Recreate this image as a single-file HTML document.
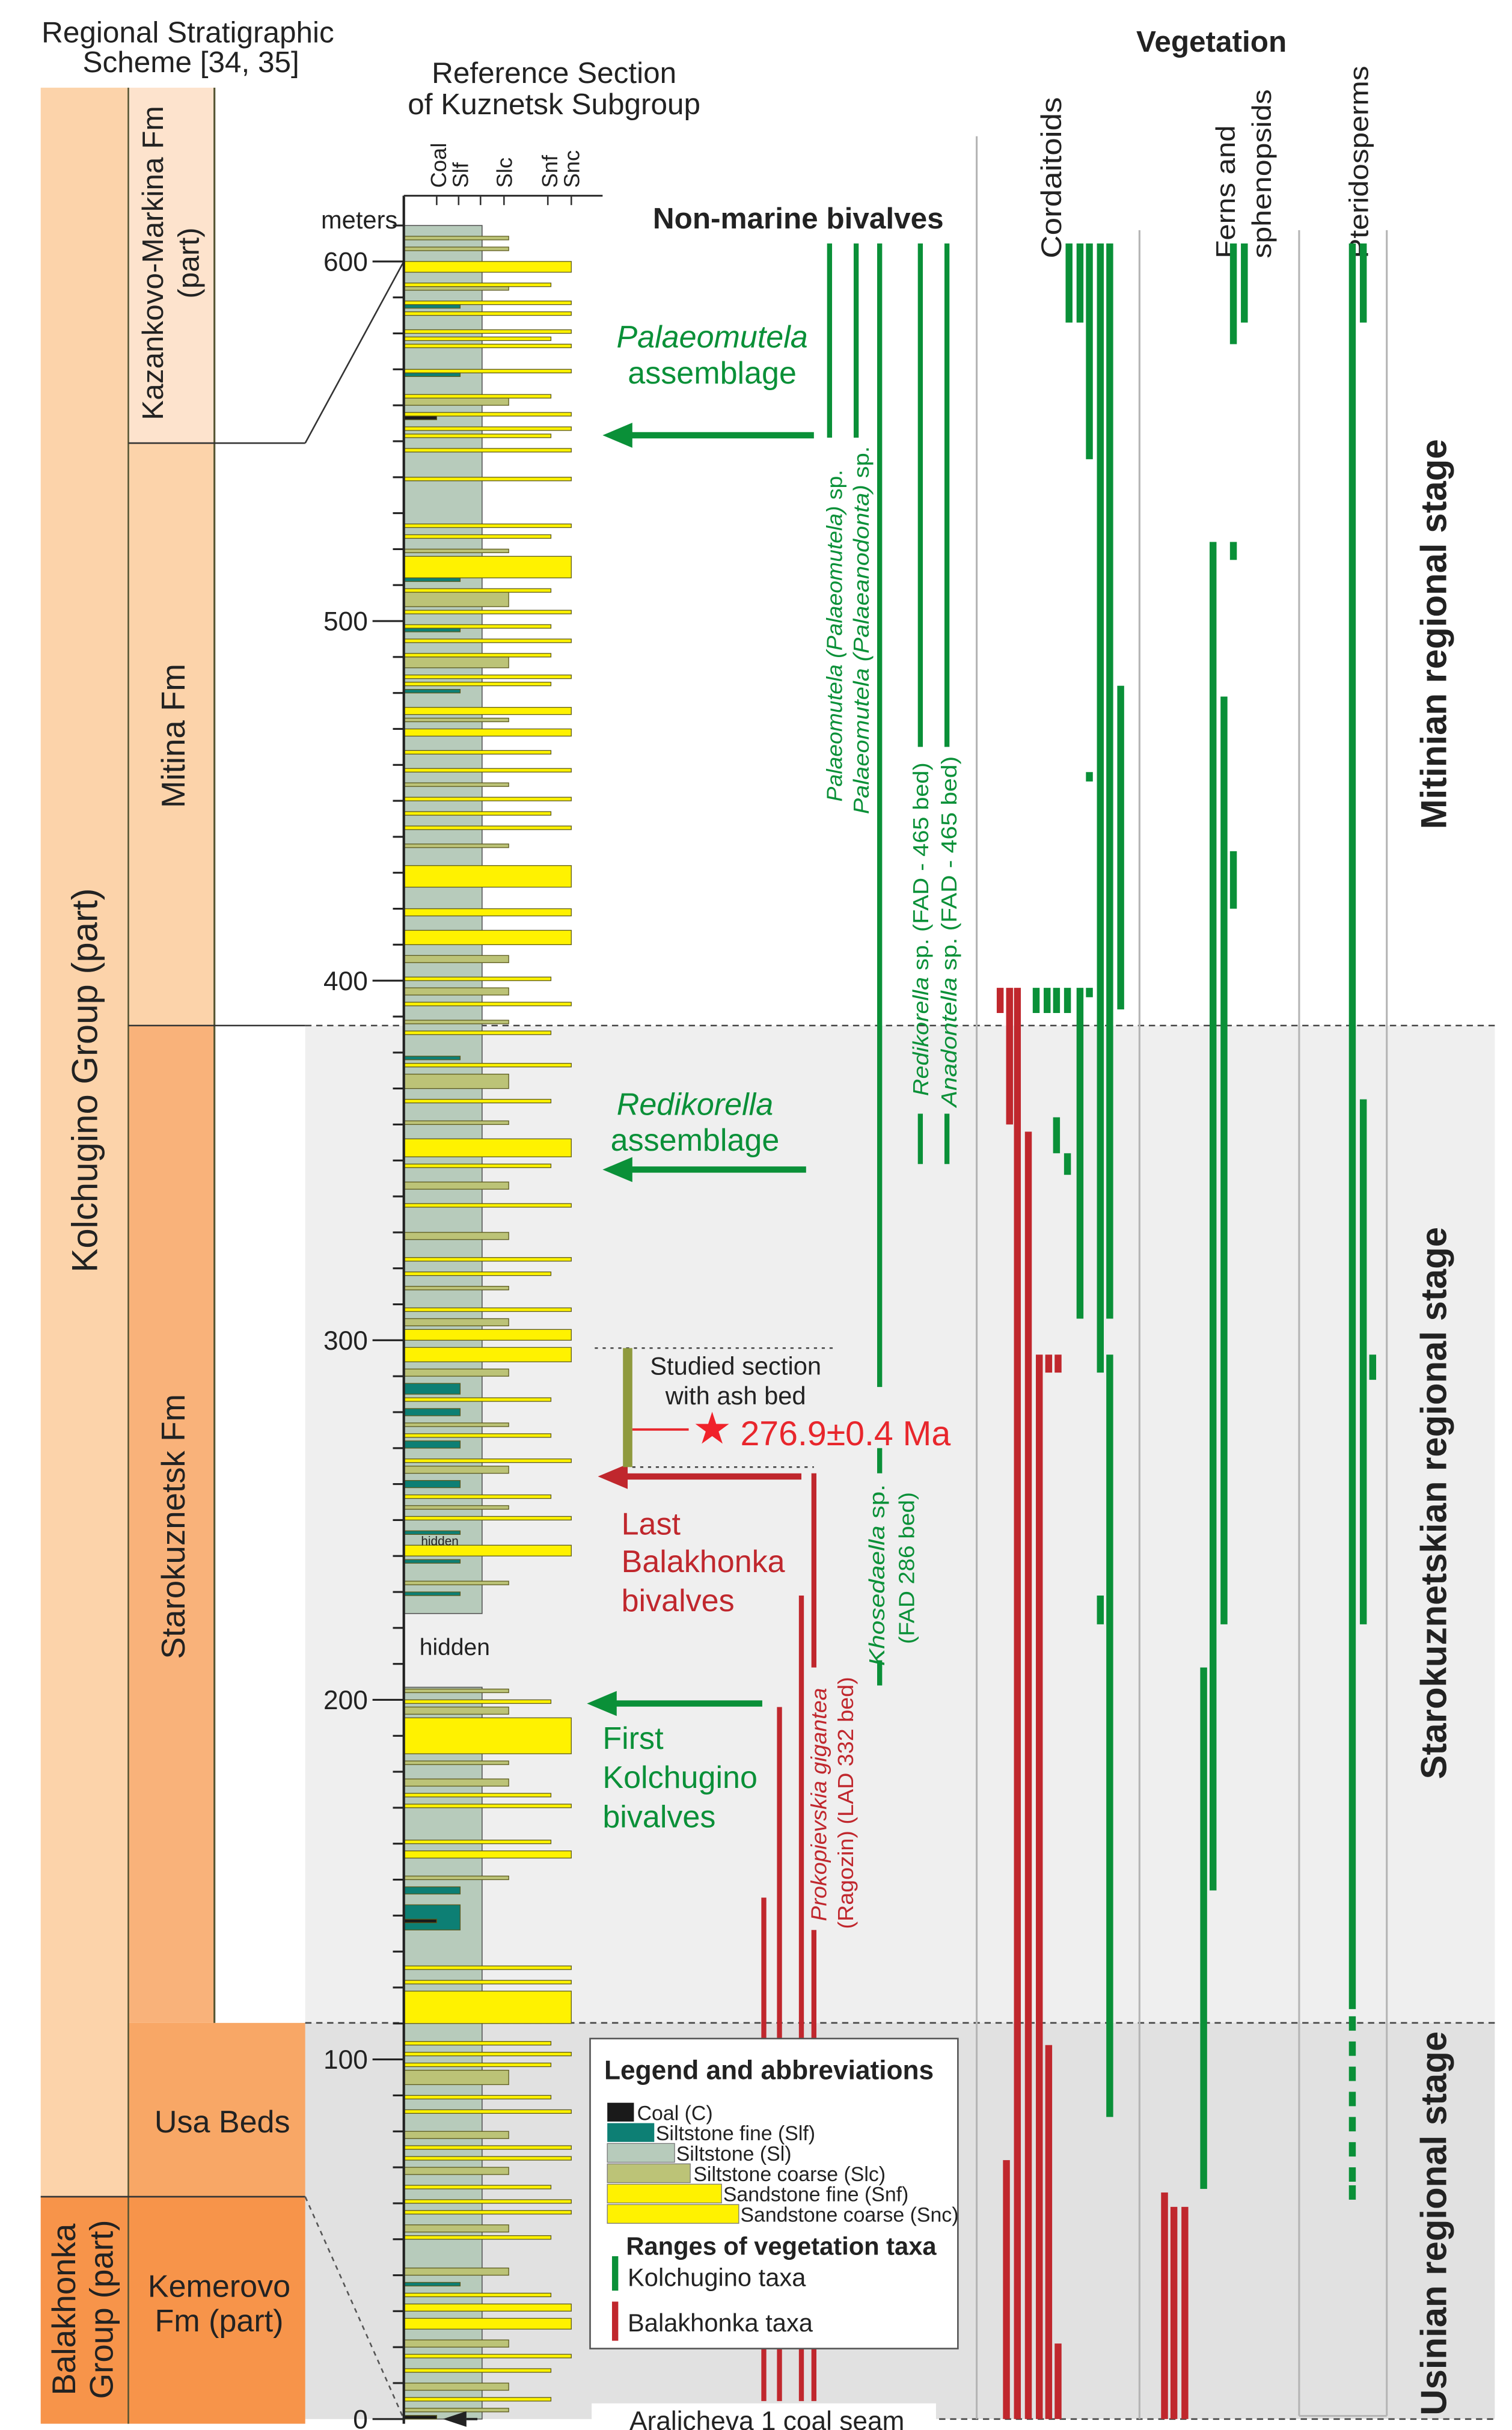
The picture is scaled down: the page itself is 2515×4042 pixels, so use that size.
<!DOCTYPE html>
<html><head><meta charset="utf-8"><style>
html,body{margin:0;padding:0;background:#fff;}
svg{display:block;font-family:"Liberation Sans",sans-serif;}
</style></head><body>
<svg id="chart" width="2515" height="4042" viewBox="0 0 966 1552" preserveAspectRatio="none" xmlns="http://www.w3.org/2000/svg">
<rect x="0" y="0" width="966" height="1552" fill="#fff"/>
<rect x="195" y="655" width="760" height="637" fill="#efefef"/>
<rect x="195" y="1292" width="760" height="253" fill="#e1e1e1"/>

<g>
<rect x="26" y="56" width="56" height="1347" fill="#fcd3aa"/>
<rect x="26" y="1403" width="56" height="145" fill="#f7944a"/>
<rect x="82" y="56" width="55" height="227" fill="#fde3cd"/>
<rect x="82" y="283" width="55" height="372" fill="#fcd3aa"/>
<rect x="82" y="655" width="55" height="637" fill="#f9b27a"/>
<rect x="82" y="1292" width="113" height="111" fill="#f8a766"/>
<rect x="82" y="1403" width="113" height="145" fill="#f7944a"/>
<line x1="82" y1="56" x2="82" y2="1548" stroke="#553" stroke-width="1"/>
<line x1="137" y1="56" x2="137" y2="1292" stroke="#553" stroke-width="1.2"/>
<line x1="82" y1="283" x2="195" y2="283" stroke="#333" stroke-width="1"/>
<line x1="195" y1="283" x2="258" y2="167" stroke="#333" stroke-width="1"/>
<line x1="82" y1="655" x2="195" y2="655" stroke="#333" stroke-width="1"/>
<line x1="26" y1="1403" x2="195" y2="1403" stroke="#333" stroke-width="1"/>
<line x1="195" y1="1403" x2="258" y2="1545" stroke="#555" stroke-width="1" stroke-dasharray="3,3"/>
<text transform="translate(62,690) rotate(-90)" text-anchor="middle" font-size="23" fill="#222">Kolchugino Group (part)</text>
<text transform="translate(104,168) rotate(-90)" text-anchor="middle" font-size="19" fill="#222">Kazankovo-Markina Fm</text>
<text transform="translate(127,168) rotate(-90)" text-anchor="middle" font-size="19" fill="#222">(part)</text>
<text transform="translate(118,470) rotate(-90)" text-anchor="middle" font-size="21" fill="#222">Mitina Fm</text>
<text transform="translate(118,975) rotate(-90)" text-anchor="middle" font-size="21" fill="#222">Starokuznetsk Fm</text>
<text x="142" y="1362" text-anchor="middle" font-size="20" fill="#222">Usa Beds</text>
<text x="140" y="1467" text-anchor="middle" font-size="20" fill="#222">Kemerovo</text>
<text x="140" y="1489" text-anchor="middle" font-size="20" fill="#222">Fm (part)</text>
<text transform="translate(48,1475) rotate(-90)" text-anchor="middle" font-size="21" fill="#222">Balakhonka</text>
<text transform="translate(72,1475) rotate(-90)" text-anchor="middle" font-size="21" fill="#222">Group (part)</text>
</g>
<text x="120" y="27" text-anchor="middle" font-size="19" fill="#222">Regional Stratigraphic</text>
<text x="122" y="46" text-anchor="middle" font-size="19" fill="#222">Scheme [34, 35]</text>
<text x="354" y="53" text-anchor="middle" font-size="19" fill="#222">Reference Section</text>
<text x="354" y="73" text-anchor="middle" font-size="19" fill="#222">of Kuznetsk Subgroup</text>

<line x1="195" y1="655" x2="955" y2="655" stroke="#444" stroke-width="1" stroke-dasharray="4,3"/>
<line x1="195" y1="1292" x2="955" y2="1292" stroke="#444" stroke-width="1" stroke-dasharray="4,3"/>
<line x1="600" y1="1545" x2="955" y2="1545" stroke="#444" stroke-width="1" stroke-dasharray="4,3"/>

<g stroke="#b5b5b5" stroke-width="1.2">
<line x1="624" y1="87" x2="624" y2="1545"/>
<line x1="728" y1="147" x2="728" y2="1545"/>
<line x1="830" y1="147" x2="830" y2="1543"/>
<line x1="886" y1="147" x2="886" y2="1543"/>
<line x1="830" y1="1543" x2="886" y2="1543"/>
</g>
<text x="774" y="33" text-anchor="middle" font-size="19" font-weight="bold" fill="#222">Vegetation</text>
<text transform="translate(678,165) rotate(-90)" font-size="18" fill="#222" textLength="103" lengthAdjust="spacingAndGlyphs">Cordaitoids</text>
<text transform="translate(789,165) rotate(-90)" font-size="17" fill="#222" textLength="85" lengthAdjust="spacingAndGlyphs">Ferns and</text>
<text transform="translate(812,165) rotate(-90)" font-size="17" fill="#222" textLength="108" lengthAdjust="spacingAndGlyphs">sphenopsids</text>
<text transform="translate(874,165) rotate(-90)" font-size="17" fill="#222" textLength="123" lengthAdjust="spacingAndGlyphs">Pteridosperms</text>
<text transform="translate(924,405) rotate(-90)" text-anchor="middle" font-size="23" font-weight="bold" fill="#222">Mitinian regional stage</text>
<text transform="translate(924,960) rotate(-90)" text-anchor="middle" font-size="23" font-weight="bold" fill="#222">Starokuznetskian regional stage</text>
<text transform="translate(924,1420) rotate(-90)" text-anchor="middle" font-size="23" font-weight="bold" fill="#222">Usinian regional stage</text>

<g id="litho"></g>
<g id="axis"></g>
<g id="ranges"></g>

<line x1="258" y1="125" x2="385" y2="125" stroke="#333" stroke-width="1.2"/>
<g font-size="14" fill="#222">
<text transform="translate(285,120) rotate(-90)">Coal</text>
<text transform="translate(299,120) rotate(-90)">Slf</text>
<text transform="translate(327,120) rotate(-90)">Slc</text>
<text transform="translate(356,120) rotate(-90)">Snf</text>
<text transform="translate(370,120) rotate(-90)">Snc</text>
</g>
<text x="254" y="146" text-anchor="end" font-size="16" fill="#222">meters</text>

<text x="510" y="146" text-anchor="middle" font-size="19" font-weight="bold" fill="#222">Non-marine bivalves</text>
<g fill="#0a9038" font-size="20">
<text x="455" y="222" text-anchor="middle" font-style="italic">Palaeomutela</text>
<text x="455" y="245" text-anchor="middle">assemblage</text>
<text x="444" y="712" text-anchor="middle" font-style="italic">Redikorella</text>
<text x="444" y="735" text-anchor="middle">assemblage</text>
<text x="385" y="1117">First</text>
<text x="385" y="1142">Kolchugino</text>
<text x="385" y="1167">bivalves</text>
</g>
<g fill="#0a9038" font-size="14">
<text transform="translate(538,512) rotate(-90)" textLength="212" lengthAdjust="spacingAndGlyphs"><tspan font-style="italic">Palaeomutela (Palaeomutela)</tspan> sp.</text>
<text transform="translate(555,520) rotate(-90)" textLength="235" lengthAdjust="spacingAndGlyphs"><tspan font-style="italic">Palaeomutela (Palaeanodonta)</tspan> sp.</text>
<text transform="translate(593,700) rotate(-90)" textLength="213" lengthAdjust="spacingAndGlyphs"><tspan font-style="italic">Redikorella</tspan> sp. (FAD - 465 bed)</text>
<text transform="translate(611,707) rotate(-90)" textLength="224" lengthAdjust="spacingAndGlyphs"><tspan font-style="italic">Anadontella</tspan> sp. (FAD - 465 bed)</text>
<text transform="translate(565,1064) rotate(-90)" textLength="116" lengthAdjust="spacingAndGlyphs"><tspan font-style="italic">Khosedaella</tspan> sp.</text>
<text transform="translate(584,1050) rotate(-90)" textLength="97" lengthAdjust="spacingAndGlyphs">(FAD 286 bed)</text>
</g>
<g fill="#c0272d" font-size="14">
<text transform="translate(528,1227) rotate(-90)" textLength="149" lengthAdjust="spacingAndGlyphs" font-style="italic">Prokopievskia gigantea</text>
<text transform="translate(545,1232) rotate(-90)" textLength="161" lengthAdjust="spacingAndGlyphs">(Ragozin) (LAD 332 bed)</text>
<text x="397" y="980" font-size="20">Last</text>
<text x="397" y="1004" font-size="20">Balakhonka</text>
<text x="397" y="1029" font-size="20">bivalves</text>
</g>
<g><line x1="520" y1="278" x2="398" y2="278" stroke="#0a9038" stroke-width="4"/><polygon points="385,278 404,270 404,286" fill="#0a9038"/></g>
<g><line x1="515" y1="747" x2="398" y2="747" stroke="#0a9038" stroke-width="4"/><polygon points="385,747 404,739 404,755" fill="#0a9038"/></g>
<g><line x1="487" y1="1088" x2="388" y2="1088" stroke="#0a9038" stroke-width="4"/><polygon points="375,1088 394,1080 394,1096" fill="#0a9038"/></g>
<g><line x1="512" y1="943" x2="395" y2="943" stroke="#c0272d" stroke-width="4"/><polygon points="382,943 401,935 401,951" fill="#c0272d"/></g>
<line x1="380" y1="861" x2="535" y2="861" stroke="#444" stroke-width="1" stroke-dasharray="2,3"/>
<line x1="404" y1="937" x2="520" y2="937" stroke="#444" stroke-width="1" stroke-dasharray="2,3"/>
<rect x="398" y="861" width="6" height="76" fill="#8f9a3e"/>
<text x="470" y="878" text-anchor="middle" font-size="16" fill="#222">Studied section</text>
<text x="470" y="897" text-anchor="middle" font-size="16" fill="#222">with ash bed</text>
<line x1="404" y1="913" x2="440" y2="913" stroke="#e8262c" stroke-width="1.5"/>
<text x="455" y="922" text-anchor="middle" font-size="28" fill="#f0222a">★</text>

<g>
<rect x="377" y="1302" width="235" height="198" fill="#fff" stroke="#555" stroke-width="1"/>
<text x="386" y="1328" font-size="17" font-weight="bold" fill="#222">Legend and abbreviations</text>
<rect x="388" y="1343" width="17" height="12" fill="#1a1a1a"/>
<rect x="388" y="1356" width="30" height="12" fill="#0d7f74"/>
<rect x="388" y="1369" width="43" height="12" fill="#b7cbbb" stroke="#777" stroke-width="0.5"/>
<rect x="388" y="1382" width="53" height="12" fill="#bcc377" stroke="#777" stroke-width="0.5"/>
<rect x="388" y="1395" width="73" height="12" fill="#fff200" stroke="#777" stroke-width="0.5"/>
<rect x="388" y="1408" width="84" height="12" fill="#fff200" stroke="#777" stroke-width="0.5"/>
<g font-size="13" fill="#222">
<text x="407" y="1354">Coal (C)</text>
<text x="419" y="1367">Siltstone fine (Slf)</text>
<text x="432" y="1380">Siltstone (Sl)</text>
<text x="443" y="1393">Siltstone coarse (Slc)</text>
<text x="462" y="1406">Sandstone fine (Snf)</text>
<text x="473" y="1419">Sandstone coarse (Snc)</text>
</g>
<text x="400" y="1440" font-size="16" font-weight="bold" fill="#222">Ranges of vegetation taxa</text>
<rect x="391" y="1441" width="4" height="22" fill="#0a9038"/>
<text x="401" y="1460" font-size="16" fill="#222">Kolchugino taxa</text>
<rect x="391" y="1470" width="4" height="25" fill="#c0272d"/>
<text x="401" y="1489" font-size="16" fill="#222">Balakhonka taxa</text>
</g>
<rect x="378" y="1535" width="220" height="17" fill="#fff"/>
<text x="490" y="1552" text-anchor="middle" font-size="17" fill="#222">Aralicheva 1 coal seam</text>
<polygon points="283,1545 298,1540 298,1550" fill="#222"/>
<line x1="298" y1="1545" x2="305" y2="1545" stroke="#222" stroke-width="1.5"/>
<g id="overlay"></g>
<text x="473" y="923" font-size="22" fill="#e8262c">276.9±0.4 Ma</text>
</svg>
<script>
// ---------- data ----------
const axisTicks = [0, 100, 200, 300, 400, 500, 600];
const gapBottom = 203.5, gapTop = 224;
const baseTop = 610;
const bedBottoms = [606,603,597,593,592,588,587,585,580,578,576,569,568,562,560,557,556,553,551,547,539,526,523,519,512,511,508,504,502,498,497,494,490,487,484,482,480,474,472,468,463,458,454,450,446,442,437,426,418,410,405,400,396,393,388,385,378,376,370,366,360,351,348,342,337,328,322,318,314,308,304,300,294,290,285,283,279,276,273,270,266,263,259,256,253,250,246,240,238,232,229,202,199,196,185,182,176,173,170,160,156,150,146,136,138,125,121,110,104,101,98,93,89,85,78,75,72,68,64,60,57,52,50,40,37,34,30,25,20,17,13,8,5,2,0];
const bedTops =    [607,604,600,594,593,589,588,586,581,579,577,570,569,563,562,558,557,554,552,548,540,527,524,520,518,512,509,508,503,499,498,495,491,490,485,483,481,476,473,470,464,459,455,451,447,443,438,432,420,414,407,401,398,394,389,386,379,377,374,367,361,356,349,344,338,330,323,319,315,309,306,303,298,292,288,284,281,277,274,272,267,265,261,257,254,251,247,243,239,233,230,203,200,198,195,183,178,174,171,161,158,151,148,143,139,126,122,119,105,102,99,97,90,86,80,76,73,70,65,61,58,54,51,42,38,35,32,28,22,18,14,10,6,3,1];
const bedTypes = ["Slc","Slc","Snc","Snf","Slc","Snc","Slf","Snc","Snc","Snf","Snc","Snc","Slf","Snf","Slc","Snc","C","Snc","Snf","Snc","Snc","Snc","Snf","Slc","Snc","Slf","Snf","Slc","Snc","Snf","Slf","Snc","Snf","Slc","Snc","Snf","Slf","Snc","Slc","Snc","Snf","Snc","Slc","Snc","Snf","Snc","Slc","Snc","Snc","Snc","Slc","Snf","Slc","Snc","Slc","Snf","Slf","Snc","Slc","Snf","Slc","Snc","Snf","Slc","Snc","Slc","Snc","Snf","Slc","Snc","Slc","Snc","Snc","Slc","Slf","Snf","Slf","Slc","Snf","Slf","Snc","Slc","Slf","Snf","Slc","Snc","Slf","Snc","Slf","Slc","Slf","Slc","Snf","Slc","Snc","Slc","Slc","Snf","Snc","Snf","Snc","Slc","Slf","Slf","C","Snc","Snc","Snc","Snf","Snc","Snf","Slc","Snf","Snc","Slc","Snc","Snc","Slc","Snf","Snc","Snc","Slc","Snf","Slc","Slf","Snf","Snc","Snc","Slc","Snc","Snf","Slc","Snf","Slc","C"];

const bivCols = [530, 547, 562, 562, 562, 588, 588, 605, 605, 488, 498, 512, 520, 520];
const bivTop =  [605, 605, 605, 270, 211, 605, 363, 605, 363, 145, 198, 229, 263, 136];
const bivBase = [551, 551, 287, 263, 204, 465, 349, 465, 349, 5, 5, 5, 209, 5];
const bivTaxa = ["K","K","K","K","K","K","K","K","K","B","B","B","B","B"];

const vegCols = [683,690,690,696,696,696,703,709,709,716,662,669,675,682,675,682,703, 639,645,650,657,664,670,676,643,670,676, 788,795,775,782,788,788,769,744,750,757, 864,871,871,877];
const vegTop =  [605,605,398,605,398,458,605,605,296,482,398,398,398,398,362,352,229, 398,398,398,358,296,296,296,72,104,21, 605,605,522,479,522,436,209,63,59,59, 605,605,367,296];
const vegBase = [583,583,306,545,398,458,291,306,84,392,391,391,391,391,352,346,221, 391,360,0,0,0,291,291,0,0,0, 577,583,147,221,517,420,64,0,0,0, 114,583,221,289];
const vegTaxa = ["K","K","K","K","K","K","K","K","K","K","K","K","K","K","K","K","K", "B","B","B","B","B","B","B","B","B","B", "K","K","K","K","K","K","K","B","B","B", "K","K","K","K"];
const pteridoDashTops = [112, 105, 98, 91, 84, 77, 70, 65];

// ---------- scales ----------
const Y0 = 1545, PXM = 2.2967;
function yScale(m){ return Y0 - m*PXM; }
const COL_X = 258;
const typeRight = {C:279, Slf:294, Sl:308, Slc:325, Snf:352, Snc:365};
const typeFill = {C:"#1a1a1a", Slf:"#0d7f74", Sl:"#b7cbbb", Slc:"#bcc377", Snf:"#fff200", Snc:"#fff200"};
const taxaColor = {K:"#0a9038", B:"#c0272d"};
const NS = "http://www.w3.org/2000/svg";
function mk(tag, attrs, parent){ const e=document.createElementNS(NS,tag); for(const k in attrs) e.setAttribute(k, attrs[k]); parent.appendChild(e); return e; }

// ---------- lithology ----------
const litho = document.getElementById('litho');
const b1 = mk('rect', {x:COL_X, y:yScale(baseTop), width:typeRight.Sl-COL_X, height:yScale(gapTop)-yScale(baseTop), fill:typeFill.Sl, stroke:"#555", 'stroke-width':0.6}, litho);


const b2 = mk('rect', {x:COL_X, y:yScale(gapBottom), width:typeRight.Sl-COL_X, height:yScale(0)-yScale(gapBottom), fill:typeFill.Sl, stroke:"#555", 'stroke-width':0.6}, litho);


for (let i = 0; i < bedBottoms.length; i++) {
  const t = bedTypes[i];
  const yT = yScale(bedTops[i]), yB = yScale(bedBottoms[i]);
  const r = mk('rect', {x:COL_X, y:yT, width:typeRight[t]-COL_X, height:Math.max(1.2, yB-yT), fill:typeFill[t], stroke:"#5c5a1e", 'stroke-width':0.5}, litho);
  
  
}
const hid1 = mk('text', {x:268, y:1057, 'font-size':15, fill:'#222'}, litho);
hid1.textContent = 'hidden';


const hid2 = mk('text', {x:269, y:987, 'font-size':8, fill:'#222'}, litho);
hid2.textContent = 'hidden';



// ---------- axis ----------
const axis = document.getElementById('axis');
const axLine = mk('line', {x1:COL_X, y1:125, x2:COL_X, y2:1548, stroke:"#222", 'stroke-width':1.6}, axis);


[279,293,307,322,350,365].forEach(function(x){
  const h = mk('line',{x1:x,y1:125,x2:x,y2:131,stroke:"#333",'stroke-width':1},axis);
  
  
});
for (let m = 0; m <= 610; m += 10) {
  const major = (m % 100 === 0);
  const tk = mk('line', {x1: major?238:251, y1:yScale(m), x2:COL_X, y2:yScale(m), stroke:"#222", 'stroke-width':1.2}, axis);
  
  
}
axisTicks.forEach(function(v){
  const t = mk('text', {x:235, y:yScale(v)+6, 'text-anchor':'end', 'font-size':17, fill:'#222'}, axis);
  t.textContent = String(v);
  
  
});

// ---------- ranges ----------
const ranges = document.getElementById('ranges');
for (let i = 0; i < bivCols.length; i++) {
  const yT = yScale(bivTop[i]), yB = yScale(bivBase[i]);
  const r = mk('rect', {x:bivCols[i]-1.6, y:yT, width:3.2, height:yB-yT, fill:taxaColor[bivTaxa[i]]}, ranges);
  
  
}
for (let i = 0; i < vegCols.length; i++) {
  const yT = yScale(vegTop[i]), yB = yScale(vegBase[i]);
  const r = mk('rect', {x:vegCols[i]-2.2, y:yT, width:4.4, height:Math.max(6, yB-yT), fill:taxaColor[vegTaxa[i]]}, ranges);
  
  
}
for (let i = 0; i < pteridoDashTops.length; i++) {
  const yT = yScale(pteridoDashTops[i]);
  const r = mk('rect', {x:861.8, y:yT, width:4.4, height:4*PXM, fill:taxaColor.K}, ranges);
  
  
}
</script>
</body></html>
